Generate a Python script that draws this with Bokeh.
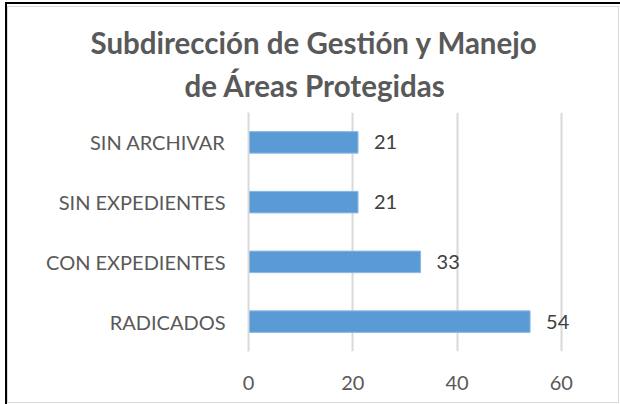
from bokeh.plotting import figure
from bokeh.models import FactorRange, Range1d, FixedTicker, Title, ColumnDataSource, InlineStyleSheet
from bokeh.core.properties import value
from bokeh.embed import file_html
from bokeh.resources import INLINE

categories = ["RADICADOS", "CON EXPEDIENTES", "SIN EXPEDIENTES", "SIN ARCHIVAR"]
counts = [54, 33, 21, 21]
x_ticks = [0, 20, 40, 60]
title_line1 = "Subdirección de Gestión y Manejo"
title_line2 = "de Áreas Protegidas"

FONT = "Lato"
BLUE = "#5B9BD5"

src = ColumnDataSource(dict(cat=categories, val=counts, lab=[str(v) for v in counts]))

p = figure(width=620, height=404, output_backend="svg", toolbar_location=None,
           y_range=FactorRange(factors=categories), x_range=Range1d(0, 70),
           min_border_left=248, min_border_right=7, min_border_top=112,
           min_border_bottom=53, title=None)
p.border_fill_color = None
p.background_fill_color = "#ffffff"
p.outline_line_color = None

css = """
:host { background: #ffffff; }
:host::before {
  content: ""; position: absolute; left: 7px; top: 6px; width: 610px; height: 395px;
  border: 1px solid #D9D9D9; pointer-events: none; z-index: 10;
}
:host::after {
  content: ""; position: absolute; left: 5px; top: 2px; right: 0px; bottom: 0px;
  border-top: 2px solid #000000; border-left: 2px solid #000000;
  pointer-events: none; z-index: 10;
}
"""
p.stylesheets = [InlineStyleSheet(css=css)]

p.hbar(y="cat", left=0, right="val", height=0.36, source=src,
       fill_color=BLUE, line_color="#8DB9E4", line_width=1)

p.text(x="val", y="cat", text="lab", source=src, x_offset=16,
       text_baseline="middle", text_align="left",
       text_font=value(FONT), text_font_size="20px", text_color="#404040")

# x axis
p.xaxis.ticker = FixedTicker(ticks=x_ticks)
p.xaxis.axis_line_color = None
p.xaxis.major_tick_line_color = None
p.xaxis.minor_tick_line_color = None
p.xaxis.major_label_text_font = FONT
p.xaxis.major_label_text_font_size = "20px"
p.xaxis.major_label_text_color = "#595959"
p.xaxis.major_label_standoff = 18

# y axis
p.yaxis.axis_line_color = "#D9D9D9"
p.yaxis.axis_line_width = 2
p.yaxis.major_tick_line_color = None
p.yaxis.minor_tick_line_color = None
p.yaxis.major_label_text_font = FONT
p.yaxis.major_label_text_font_size = "20px"
p.yaxis.major_label_text_color = "#595959"
p.yaxis.major_label_standoff = 17

p.xgrid.ticker = FixedTicker(ticks=x_ticks)
p.xgrid.grid_line_color = "#D9D9D9"
p.xgrid.grid_line_width = 2
p.ygrid.grid_line_color = None

p.add_layout(Title(text=title_line2, align="left", offset=-64,
                   text_font=FONT, text_font_size="29.5px", text_font_style="bold",
                   text_color="#595959", standoff=20), "above")
p.add_layout(Title(text=title_line1, align="left", offset=-158,
                   text_font=FONT, text_font_size="29.5px", text_font_style="bold",
                   text_color="#595959", standoff=-9), "above")

open("out.html", "w").write(file_html(p, INLINE))
